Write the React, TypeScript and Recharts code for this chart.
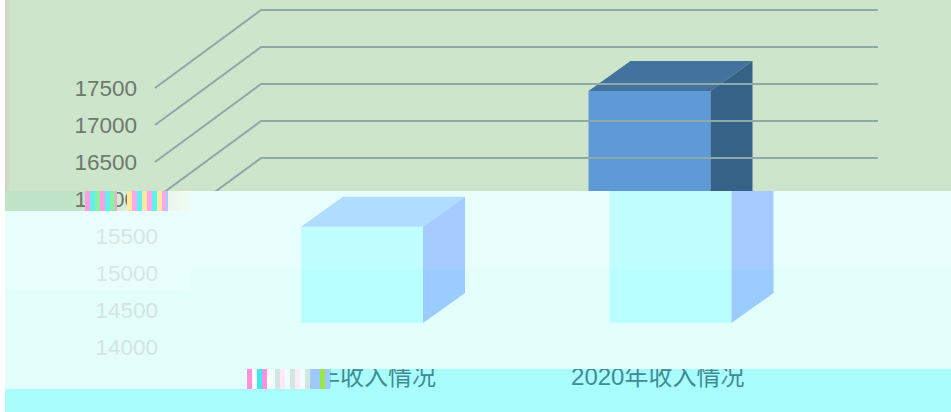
import { Bar, BarChart, XAxis, YAxis } from "recharts";

const categories = ["2019年收入情况", "2020年收入情况"];
const income = [15300, 17135];
const yTicks = [14000, 14500, 15000, 15500, 16000, 16500, 17000, 17500];

const WIDTH = 951;
const HEIGHT = 412;
// depth of the 3d wall and where the bars stand inside it
const WALL_DX = 106;
const WALL_DY = 78;
const BAR_DX = 32;
const BAR_DY = 24;
const BAR_DEPTH_X = 42;
const BAR_DEPTH_Y = 30;

type Theme = {
  clip: string;
  shift: number;
  bg: string;
  text: string;
  grid: string;
  front: string;
  top: string;
  side: string;
  yLabels: number[];
  xLabels: boolean;
};

// the picture is broken into horizontal bands, each one with its own colours and offset
const bands: Theme[] = [
  {
    clip: "polygon(5px 0, 951px 0, 951px 191px, 5px 191px)",
    shift: 0,
    bg: "linear-gradient(90deg, #cfd2c6 5px, #cde5ca 10px)",
    text: "#6c7a6c",
    grid: "#8fa8a8",
    front: "#5e9ad6",
    top: "#44729f",
    side: "#366287",
    yLabels: [16500, 17000, 17500],
    xLabels: false,
  },
  {
    clip: "polygon(5px 191px, 190px 191px, 190px 211px, 5px 211px)",
    shift: 0,
    bg: "linear-gradient(90deg, #bfe4c8 75px, #f2fbf4 190px)",
    text: "#6c7a6c",
    grid: "transparent",
    front: "#5e9ad6",
    top: "#44729f",
    side: "#366287",
    yLabels: [16000],
    xLabels: false,
  },
  {
    clip: "polygon(190px 191px, 951px 191px, 951px 269px, 190px 269px, 190px 290px, 5px 290px, 5px 211px, 190px 211px)",
    shift: 21,
    bg: "#e9fffd",
    text: "#dbe6e3",
    grid: "transparent",
    front: "#c0fffd",
    top: "#b0dcff",
    side: "#a6ccff",
    yLabels: [15000, 15500],
    xLabels: false,
  },
  {
    clip: "polygon(190px 269px, 951px 269px, 951px 369px, 330px 369px, 330px 389px, 5px 389px, 5px 290px, 190px 290px)",
    shift: 21,
    bg: "#e2fffc",
    text: "#d6e4e0",
    grid: "transparent",
    front: "#b8ffff",
    top: "#b0dcff",
    side: "#9accff",
    yLabels: [14000, 14500],
    xLabels: false,
  },
  {
    clip: "polygon(247px 369px, 951px 369px, 951px 412px, 5px 412px, 5px 389px, 247px 389px)",
    shift: 0,
    bg: "#a9fdfd",
    text: "#3f8c94",
    grid: "transparent",
    front: "#a9fdfd",
    top: "#a9fdfd",
    side: "#a9fdfd",
    yLabels: [],
    xLabels: true,
  },
];

// colour blocks where the picture is garbled
const noise = [
  { left: 85, top: 191, width: 32, height: 20, colors: ["#ff9fe0", "#5ff0f0", "#8cf0a0"] },
  { left: 127, top: 191, width: 41, height: 20, colors: ["#ffe9a0", "#ffa6ec", "#59f3f0"] },
  { left: 247, top: 369, width: 23, height: 20, colors: ["#ff8fe0", "#ffffff", "#40e8f0"] },
  { left: 270, top: 369, width: 40, height: 20, colors: ["#f0ffff", "#d0e8e0", "#ffe8f8"] },
  { left: 310, top: 369, width: 20, height: 20, colors: ["#a0c8ff", "#a0c8ff", "#98e848"] },
];

const data = categories.map((name, i) => ({ name, income: income[i] }));

function Chart({ theme }: { theme: Theme }) {
  const wallTick = (props: any) => {
    const { y, payload } = props;
    const x0 = 155;
    return (
      <g>
        <polyline
          points={`${x0},${y} ${x0 + WALL_DX},${y - WALL_DY} 878,${y - WALL_DY}`}
          fill="none"
          stroke={theme.grid}
          strokeWidth={2}
        />
        {theme.yLabels.includes(payload.value) && (
          <text x={137} y={y} dy={8} textAnchor="end" fontSize={22.5} fill={theme.text}>
            {payload.value}
          </text>
        )}
      </g>
    );
  };

  const categoryTick = (props: any) =>
    theme.xLabels ? (
      <text x={props.x + 40} y={385} textAnchor="middle" fontSize={24} fill={theme.text}>
        {props.payload.value}
      </text>
    ) : (
      <g />
    );

  const box = (props: any) => {
    const x = props.x + BAR_DX;
    const y = props.y - BAR_DY;
    const w = props.width;
    const h = props.height;
    return (
      <g>
        <rect x={x} y={y} width={w} height={h} fill={theme.front} />
        <polygon
          points={`${x},${y} ${x + BAR_DEPTH_X},${y - BAR_DEPTH_Y} ${x + w + BAR_DEPTH_X},${y - BAR_DEPTH_Y} ${x + w},${y}`}
          fill={theme.top}
        />
        <polygon
          points={`${x + w},${y} ${x + w + BAR_DEPTH_X},${y - BAR_DEPTH_Y} ${x + w + BAR_DEPTH_X},${y + h - BAR_DEPTH_Y} ${x + w},${y + h}`}
          fill={theme.side}
        />
      </g>
    );
  };

  return (
    <BarChart
      width={WIDTH}
      height={HEIGHT}
      data={data}
      margin={{ top: 88, right: 179, bottom: 25, left: 55 }}
      style={{ fontFamily: '"Liberation Sans", "Noto Sans CJK SC", sans-serif' }}
    >
      <XAxis dataKey="name" axisLine={false} tickLine={false} height={40} tick={categoryTick} interval={0} />
      <YAxis
        domain={[14000, 17500]}
        ticks={yTicks}
        width={100}
        axisLine={false}
        tickLine={false}
        tick={wallTick}
        interval={0}
      />
      <Bar dataKey="income" barSize={122} shape={box} isAnimationActive={false} />
    </BarChart>
  );
}

export default function App() {
  return (
    <div style={{ position: "absolute", left: 0, top: 0, width: WIDTH, height: HEIGHT, overflow: "hidden", background: "#fff" }}>
      {bands.map((b, i) => (
        <div
          key={i}
          style={{ position: "absolute", left: 0, top: 0, width: WIDTH, height: HEIGHT, clipPath: b.clip, background: b.bg }}
        >
          <div style={{ position: "absolute", left: b.shift, top: 0 }}>
            <Chart theme={b} />
          </div>
        </div>
      ))}
      {noise.map((n, i) => (
        <div
          key={i}
          style={{
            position: "absolute",
            left: n.left,
            top: n.top,
            width: n.width,
            height: n.height,
            background: `repeating-linear-gradient(90deg, ${n.colors[0]} 0 5px, ${n.colors[1]} 5px 10px, ${n.colors[2]} 10px 15px)`,
          }}
        />
      ))}
    </div>
  );
}
